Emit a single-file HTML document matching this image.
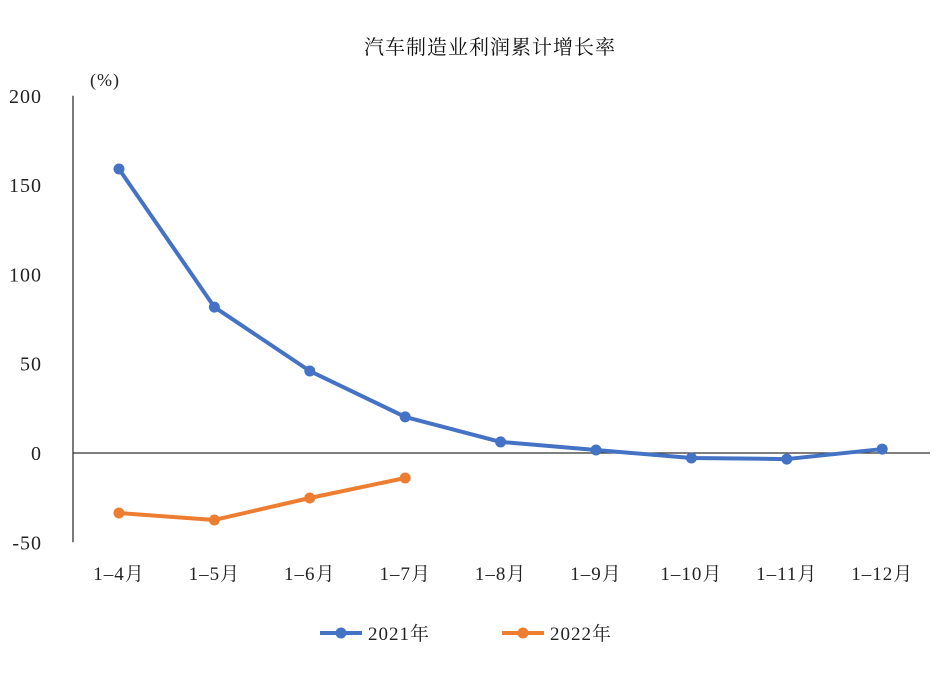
<!DOCTYPE html>
<html><head><meta charset="utf-8"><style>
body{margin:0;background:#fff;}
svg text{font-family:"Liberation Serif","Noto Serif CJK SC",serif;fill:#222;letter-spacing:1px;}
</style></head><body>
<svg id="chart" width="951" height="675" xmlns="http://www.w3.org/2000/svg">
<text x="490" y="54" font-size="20" text-anchor="middle" style="fill:#111">汽车制造业利润累计增长率</text>
<text x="90" y="86" font-size="18">(%)</text>
<g id="axes"></g><g id="series"></g>
<g>
<g><line x1="320" y1="633" x2="362" y2="633" stroke="#4472C4" stroke-width="4"/><circle cx="341" cy="633" r="5.5" fill="#4472C4"/><text x="368" y="640" font-size="19">2021年</text></g>
<g><line x1="502" y1="633" x2="544" y2="633" stroke="#ED7D31" stroke-width="4"/><circle cx="523" cy="633" r="5.5" fill="#ED7D31"/><text x="550" y="640" font-size="19">2022年</text></g>
</g>
</svg>
<script>
const categories=["1–4月","1–5月","1–6月","1–7月","1–8月","1–9月","1–10月","1–11月","1–12月"];
const series2021=[159,81.7,45.9,20.2,6.2,1.7,-2.8,-3.4,2.2];
const series2022=[-33.6,-37.5,-25.2,-14];
const yTicks=[200,150,100,50,0,-50];
const NS="http://www.w3.org/2000/svg";
function y(v){return 453-v*1.786;}
function x(i){return 119+i*95.4;}
function mk(t,a,p){const e=document.createElementNS(NS,t);for(const k in a)e.setAttribute(k,a[k]);p.appendChild(e);return e;}
const ax=document.getElementById('axes'),se=document.getElementById('series');
let e=mk('line',{x1:73,y1:y(200),x2:73,y2:y(-50),stroke:'#333','stroke-width':1.3},ax);


e=mk('line',{x1:73,y1:y(0),x2:930,y2:y(0),stroke:'#333','stroke-width':1.3},ax);


yTicks.forEach(v=>{const t=mk('text',{x:42,y:y(v)+7,'font-size':20,'text-anchor':'end'},ax);t.textContent=v;

});
categories.forEach((c,i)=>{const t=mk('text',{x:x(i),y:580,'font-size':19,'text-anchor':'middle'},ax);t.textContent=c;

});
function draw(d,col,name){
const p=mk('polyline',{points:d.map((v,i)=>x(i)+','+y(v)).join(' '),fill:'none',stroke:col,'stroke-width':4,'stroke-linejoin':'round'},se);


d.forEach((v,i)=>{const c=mk('circle',{cx:x(i),cy:y(v),r:5.5,fill:col},se);

});
}
draw(series2021,'#4472C4','series-2021');
draw(series2022,'#ED7D31','series-2022');
</script>
</body></html>
